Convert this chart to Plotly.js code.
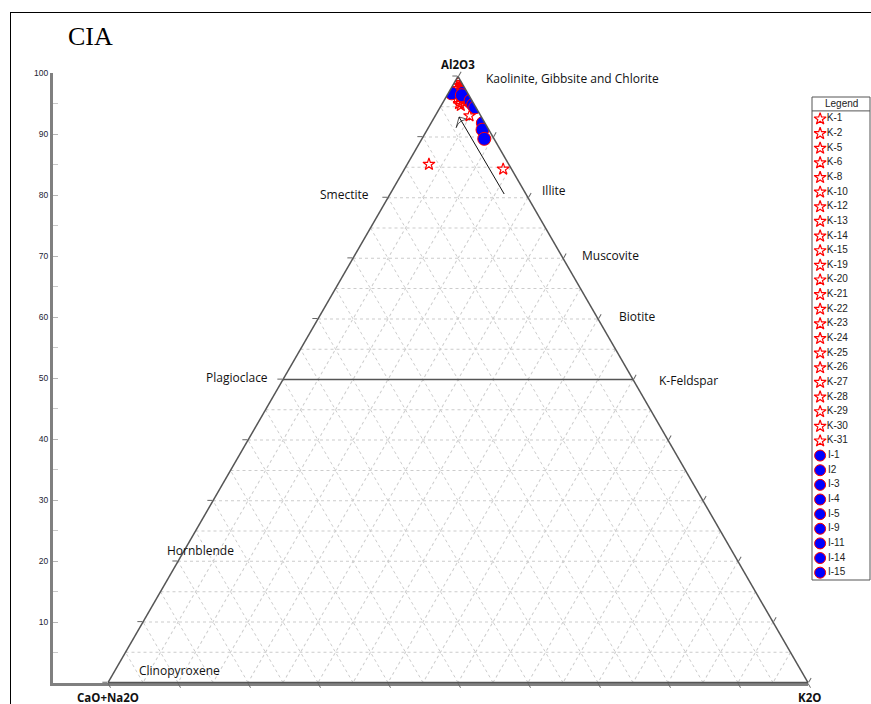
<!DOCTYPE html>
<html>
<head>
<meta charset="utf-8">
<script src="https://cdn.plot.ly/plotly-3.0.1.min.js"></script>
<style>html,body{margin:0;padding:0;background:#fff;}#chart{width:871px;height:704px;}</style>
</head>
<body>
<div id="chart"></div>
<script>
// ---- data ----
var kNames = ['K-1','K-2','K-5','K-6','K-8','K-10','K-12','K-13','K-14','K-15','K-19','K-20','K-21','K-22','K-23','K-24','K-25','K-26','K-27','K-28','K-29','K-30','K-31'];
var kAl2O3  = [99.3, 99.4, 99.0, 98.7, 98.5, 98.2, 98.0, 98.0, 97.7, 97.5, 97.4, 96.9, 96.7, 96.5, 96.4, 96.0, 95.7, 95.5, 97.2, 95.2, 93.5, 85.5, 84.7];
var kCaONa2O= [0.2, 0.1, 0.1, 0.0, 0.5, 0.3, 0.1, 1.0, 0.7, 0.2, 1.2, 0.8, 0.5, 1.5, 1.9, 1.4, 1.3, 2.1, 0.3, 2.0, 1.6, 11.4, 1.2];
var kK2O    = [0.5, 0.5, 0.9, 1.3, 1.0, 1.5, 1.9, 1.0, 1.6, 2.3, 1.4, 2.3, 2.8, 2.0, 1.7, 2.6, 3.0, 2.4, 2.5, 2.8, 4.9, 3.1, 14.1];

var iNames = ['I-1','I2','I-3','I-4','I-5','I-9','I-11','I-14','I-15'];
var iAl2O3  = [97.2, 97.3, 96.9, 96.0, 95.3, 94.9, 92.3, 91.2, 89.7];
var iCaONa2O= [2.3, 0.6, 1.0, 0.2, 0.2, 0.1, 0.3, 0.9, 1.4];
var iK2O    = [0.5, 2.1, 2.1, 3.8, 4.5, 5.0, 7.4, 7.9, 8.9];

// Plagioclase – K-feldspar join (Al2O3 = 50)
var joinAl2O3 = [50, 50];
var joinCaONa2O = [50, 0];
var joinK2O = [0, 50];

// weathering trend arrow
var arrowAl2O3 = [80.6, 93.3];
var arrowCaONa2O = [3.1, 3.2];
var arrowK2O = [16.3, 3.5];

var leftTicks = [10,20,30,40,50,60,70,80,90,100];

// ---- helpers (pixel -> paper) ----
var W = 871, H = 704;
function px(x){return x/W;}
function py(y){return 1 - y/H;}

var domX = [px(108), px(808)];
var domY = [py(683), py(76)];

var starMarker = {symbol:'star-open', color:'#ff0000', size:9, line:{color:'#ff0000', width:1.2}};
var circMarker = {symbol:'circle', color:'#0000ff', size:13, line:{color:'#ff0000', width:1}};

var traces = [];
// invisible cartesian trace to keep left scale
traces.push({type:'scatter', x:[], y:[], xaxis:'x', yaxis:'y', showlegend:false, hoverinfo:'skip'});
// empty trace so the dashed-grid ternary is created
traces.push({type:'scatterternary', subplot:'ternary', a:[], b:[], c:[], mode:'markers', showlegend:false, hoverinfo:'skip'});

traces.push({type:'scatterternary', subplot:'ternary2', mode:'lines',
  a:joinAl2O3, b:joinCaONa2O, c:joinK2O, line:{color:'#555', width:1.5}, showlegend:false, hoverinfo:'skip'});
traces.push({type:'scatterternary', subplot:'ternary2', mode:'lines+markers',
  a:arrowAl2O3, b:arrowCaONa2O, c:arrowK2O, line:{color:'#111', width:1},
  marker:{symbol:'arrow-wide-open', size:[0,11], angle:-30, color:'#111', line:{color:'#111', width:1}},
  showlegend:false, hoverinfo:'skip'});

traces.push({type:'scatterternary', subplot:'ternary2', mode:'markers', name:'K',
  a:kAl2O3, b:kCaONa2O, c:kK2O, text:kNames, marker:starMarker, showlegend:false});
traces.push({type:'scatterternary', subplot:'ternary2', mode:'markers', name:'I',
  a:iAl2O3, b:iCaONa2O, c:iK2O, text:iNames, marker:circMarker, showlegend:false});

// legend panel built from sample names
var kRows = kNames.map(function(_,i){return i;});
var iRows = iNames.map(function(_,i){return i + kNames.length;});
traces.push({type:'scatter', xaxis:'x2', yaxis:'y2', mode:'markers+text', x:kRows.map(function(){return 0.14;}), y:kRows,
  text:kNames, textposition:'middle right', textfont:{family:'Liberation Sans, Arial', size:10, color:'#222'},
  marker:{symbol:'star-open', color:'#ff0000', size:9, line:{color:'#ff0000', width:1.2}}, showlegend:false, hoverinfo:'skip', cliponaxis:false});
traces.push({type:'scatter', xaxis:'x2', yaxis:'y2', mode:'markers+text', x:iRows.map(function(){return 0.14;}), y:iRows,
  text:iNames, textposition:'middle right', textfont:{family:'Liberation Sans, Arial', size:10, color:'#222'},
  marker:{symbol:'circle', color:'#0000ff', size:11, line:{color:'#ff0000', width:1}}, showlegend:false, hoverinfo:'skip', cliponaxis:false});

function tAxis(dtick, grid){
  return {
    min:0, dtick:dtick, tick0:0,
    showgrid:grid, gridcolor:'#cccccc', griddash:'3px,3px', gridwidth:1,
    showline:!grid, linecolor:'#555', linewidth:1.5,
    ticks: grid ? '' : 'outside', ticklen:5, tickcolor:'#666', tickwidth:1,
    showticklabels:false, title:{text:''}
  };
}

var lblFont = {family:'Open Sans, Noto Sans, sans-serif', size:12, color:'#111'};
var boldFont = {family:'Open Sans, Noto Sans, sans-serif', size:11.5, color:'#111', weight:'bold'};
function lbl(text, x, y, anchor, font){
  return {text:text, xref:'paper', yref:'paper', x:px(x), y:py(y), xanchor:anchor||'left', yanchor:'middle', showarrow:false, font:font||lblFont};
}

var annotations = [
  {text:'CIA', xref:'paper', yref:'paper', x:px(66), y:py(36), xanchor:'left', yanchor:'middle', showarrow:false,
   font:{family:'Liberation Serif, Times New Roman, serif', size:26, color:'#000'}},
  lbl('<b>Al2O3</b>', 458, 65, 'center', boldFont),
  lbl('<b>CaO+Na2O</b>', 108, 697, 'center', boldFont),
  lbl('<b>K2O</b>', 809, 697, 'center', boldFont),
  lbl('Kaolinite, Gibbsite and Chlorite', 484, 78),
  lbl('Smectite', 318, 194),
  lbl('Illite', 540, 190),
  lbl('Muscovite', 580, 255),
  lbl('Biotite', 617, 316),
  lbl('Plagioclace', 204, 377),
  lbl('K-Feldspar', 657, 381),
  lbl('Hornblende', 165, 550),
  lbl('Clinopyroxene', 137, 670),
  {text:'Legend', xref:'x2', yref:'y2', x:0.5, y:-1.05, xanchor:'center', yanchor:'middle', showarrow:false,
   font:{family:'Liberation Sans, Arial', size:10, color:'#222'}}
];

var shapes = [
  {type:'line', xref:'paper', yref:'paper', x0:px(10), x1:1, y0:py(12.5), y1:py(12.5), line:{color:'#000', width:1}},
  {type:'line', xref:'paper', yref:'paper', x0:px(10.5), x1:px(10.5), y0:py(12), y1:0, line:{color:'#000', width:1}},
  {type:'rect', xref:'x2 domain', yref:'y2 domain', x0:0, x1:1, y0:0, y1:1, line:{color:'#555', width:1}, fillcolor:'rgba(0,0,0,0)'},
  {type:'line', xref:'x2 domain', yref:'y2', x0:0, x1:1, y0:-0.55, y1:-0.55, line:{color:'#555', width:1}}
];

var layout = {
  width:W, height:H,
  margin:{l:0, r:0, t:0, b:0},
  paper_bgcolor:'#fff', plot_bgcolor:'rgba(0,0,0,0)',
  showlegend:false,
  xaxis:{domain:[px(53), px(808)], range:[0,1], showgrid:false, zeroline:false, showticklabels:false, ticks:'',
    showline:true, linecolor:'#808080', linewidth:3, anchor:'y', fixedrange:true},
  yaxis:{domain:[py(683), py(73)], range:[0,100], tickvals:leftTicks, showgrid:false, zeroline:false,
    showline:true, linecolor:'#808080', linewidth:3, anchor:'x',
    ticks:'inside', ticklen:5, tickcolor:'#b5b5b5', tickwidth:1,
    minor:{dtick:5, tick0:0, ticks:'inside', ticklen:5, tickcolor:'#c8c8c8', tickwidth:1, showgrid:false},
    tickfont:{family:'Liberation Sans, Arial', size:8.5, color:'#223'}, fixedrange:true},
  xaxis2:{domain:[px(812), px(870)], range:[0,1], visible:false, anchor:'y2', fixedrange:true},
  yaxis2:{domain:[py(580), py(97)], range:[31.5,-1.5], visible:false, anchor:'x2', fixedrange:true},
  ternary:{domain:{x:domX, y:domY}, sum:100, bgcolor:'rgba(0,0,0,0)',
    aaxis:tAxis(5,true), baxis:tAxis(5,true), caxis:tAxis(5,true)},
  ternary2:{domain:{x:domX, y:domY}, sum:100, bgcolor:'rgba(0,0,0,0)',
    aaxis:tAxis(10,false), baxis:tAxis(10,false), caxis:tAxis(10,false)},
  annotations:annotations,
  shapes:shapes
};

Plotly.newPlot('chart', traces, layout, {displayModeBar:false, staticPlot:true});
</script>
</body>
</html>
